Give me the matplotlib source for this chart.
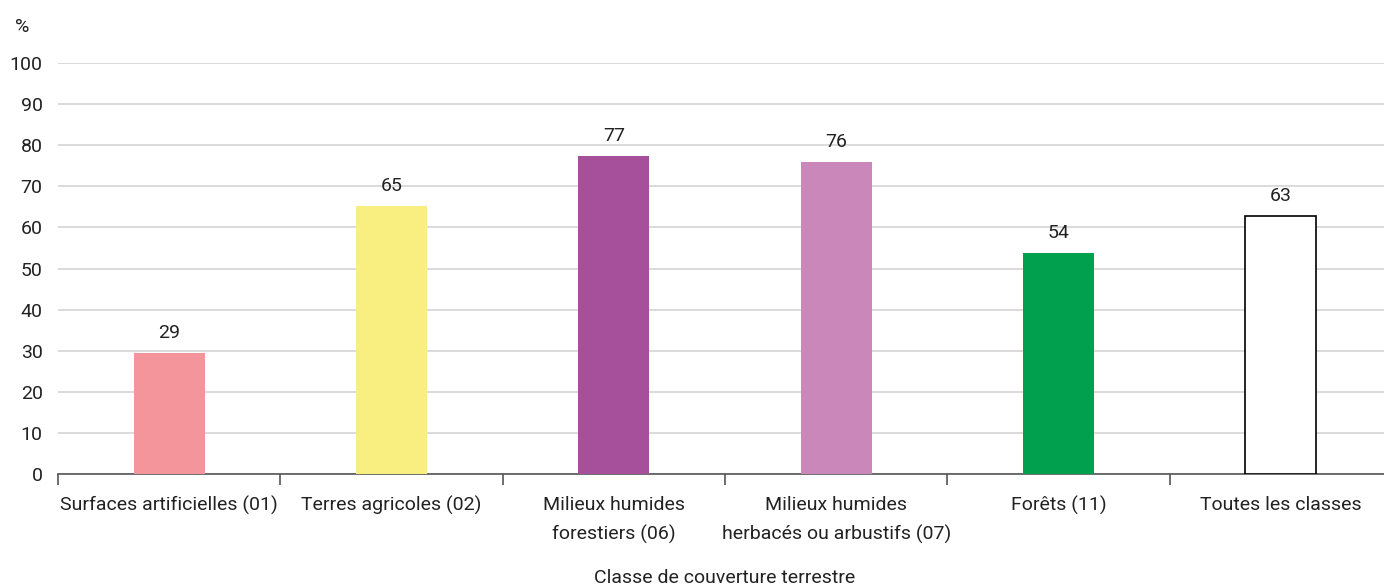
import matplotlib
matplotlib.use("Agg")
import matplotlib.pyplot as plt
import numpy as np

plt.rcParams['font.family'] = ['Liberation Sans Narrow', 'Roboto', 'DejaVu Sans']

categories = ["Surfaces artificielles (01)", "Terres agricoles (02)",
              "Milieux humides\nforestiers (06)", "Milieux humides\nherbacés ou arbustifs (07)",
              "Forêts (11)", "Toutes les classes"]
values = [29.4, 65.2, 77.4, 75.9, 53.8, 62.8]
labels = ["29", "65", "77", "76", "54", "63"]
colors = ["#F4959B", "#F8EF80", "#A6509C", "#CA88BA", "#00A04E", "#FFFFFF"]

fs = 14
fig = plt.figure(figsize=(13.84, 5.88), dpi=100)
ax = fig.add_axes([58 / 1384, 1 - 474 / 588, (1392 - 58) / 1384, (474 - 63) / 588])

x = np.arange(len(categories))
bars = ax.bar(x, values, width=0.32, color=colors, zorder=3)
bars[-1].set_edgecolor("black")
bars[-1].set_linewidth(1.2)

for xi, v, lab in zip(x, values, labels):
    ax.annotate(lab, (xi, v), xytext=(0, 8), textcoords="offset points",
                ha="center", va="bottom", fontsize=fs, color="#222222")

ax.set_xlim(-0.5, len(categories) - 0.5)
ax.set_ylim(0, 100)
ax.set_yticks(range(0, 101, 10))
ax.yaxis.grid(True, color="#d4d4d4", linewidth=1.2, zorder=0)
ax.set_axisbelow(True)

for s in ["top", "right", "left"]:
    ax.spines[s].set_visible(False)
ax.spines["bottom"].set_color("#555555")
ax.spines["bottom"].set_linewidth(1.2)

ax.tick_params(axis="y", length=0, labelsize=fs, pad=11, labelcolor="#222222")
ax.set_xticks(np.arange(-0.5, len(categories), 1.0))
ax.set_xticklabels([])
ax.tick_params(axis="x", which="major", length=8, color="#555555", width=1.2)
ax.set_xticks(x, minor=True)
ax.set_xticklabels(categories, minor=True, fontsize=fs, color="#222222", linespacing=1.7)
ax.tick_params(axis="x", which="minor", length=0, pad=16)

ax.set_xlabel("Classe de couverture terrestre", fontsize=fs, color="#222222")
ax.xaxis.set_label_coords(0.5, -0.23)
fig.text(22 / 1384, 1 - 27 / 588, "%", fontsize=fs, color="#222222", ha="center", va="center")

fig.savefig("out.png", dpi=100)
